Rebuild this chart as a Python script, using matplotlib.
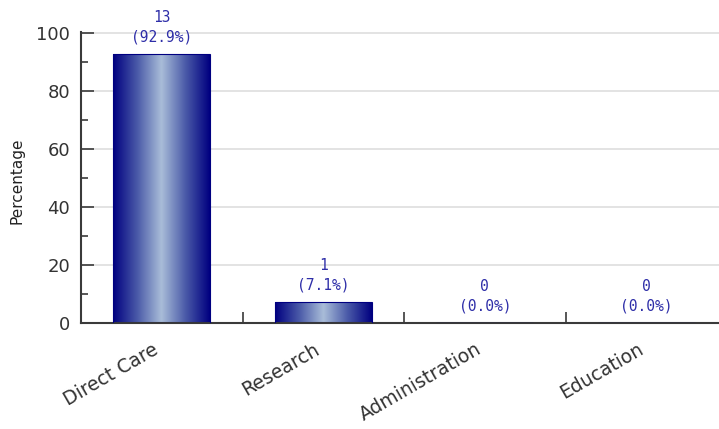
import numpy as np
import matplotlib

matplotlib.use("Agg")
import matplotlib.pyplot as plt
from matplotlib.colors import LinearSegmentedColormap
from matplotlib.ticker import FixedLocator, MultipleLocator

categories = ["Direct Care", "Research", "Administration", "Education"]
counts = [13, 1, 0, 0]
percentages = [92.9, 7.1, 0.0, 0.0]

navy = "#000080"
light = "#A9BDD8"
label_color = "#2E2EA8"
axis_color = "#3A3A3A"

fig = plt.figure(figsize=(7.19, 4.29), dpi=100)
ax = fig.add_axes([0.1127, 0.2471, 0.8985, 0.6783])

x = np.arange(len(categories))
bars = ax.bar(x, percentages, width=0.6, color="none", edgecolor=navy, linewidth=0.8, zorder=3)

# horizontal gradient: navy edges, light centre
cmap = LinearSegmentedColormap.from_list("bar", [navy, "#4A5AA8", light, "#4A5AA8", navy])
grad = np.linspace(0, 1, 256).reshape(1, -1)
for b in bars:
    if b.get_height() <= 0:
        continue
    x0, y0 = b.get_x(), b.get_y()
    im = ax.imshow(grad, cmap=cmap, aspect="auto", zorder=2,
                   extent=(x0, x0 + b.get_width(), y0, y0 + b.get_height()))
    im.set_clip_path(b)

for xi, c, p in zip(x, counts, percentages):
    ax.annotate(f"{c}\n({p:.1f}%)", (xi, p), xytext=(0, 7), textcoords="offset points",
                ha="center", va="bottom", family="DejaVu Sans Mono", fontsize=10.5,
                color=label_color, linespacing=1.35)

ax.set_xlim(-0.5, 3.5)
ax.set_ylim(0, 100.4)
ax.yaxis.set_major_locator(MultipleLocator(20))
ax.yaxis.set_minor_locator(MultipleLocator(10))
ax.grid(axis="y", color="#E0E0E0", linewidth=1.3, zorder=0)
ax.set_axisbelow(True)

ax.set_xticks(x)
ax.set_xticklabels(categories, rotation=30, ha="right", va="top",
                   fontsize=13.5, color="#333333")
ax.xaxis.set_minor_locator(FixedLocator([0.5, 1.5, 2.5]))
ax.tick_params(axis="x", which="major", length=0, pad=12)
ax.tick_params(axis="x", which="minor", direction="in", length=8, width=1.2, color=axis_color)
ax.tick_params(axis="y", which="major", direction="in", length=9, width=1.2, color=axis_color,
               labelsize=13, labelcolor="#333333", pad=8)
ax.tick_params(axis="y", which="minor", direction="in", length=5, width=1.2, color=axis_color)

ax.set_ylabel("Percentage", fontsize=11, color="#222222")
ax.yaxis.set_label_coords(-0.088, 0.488)

for s in ("top", "right"):
    ax.spines[s].set_visible(False)
for s in ("left", "bottom"):
    ax.spines[s].set_color(axis_color)
    ax.spines[s].set_linewidth(1.5)

fig.savefig("out.png", dpi=100)
